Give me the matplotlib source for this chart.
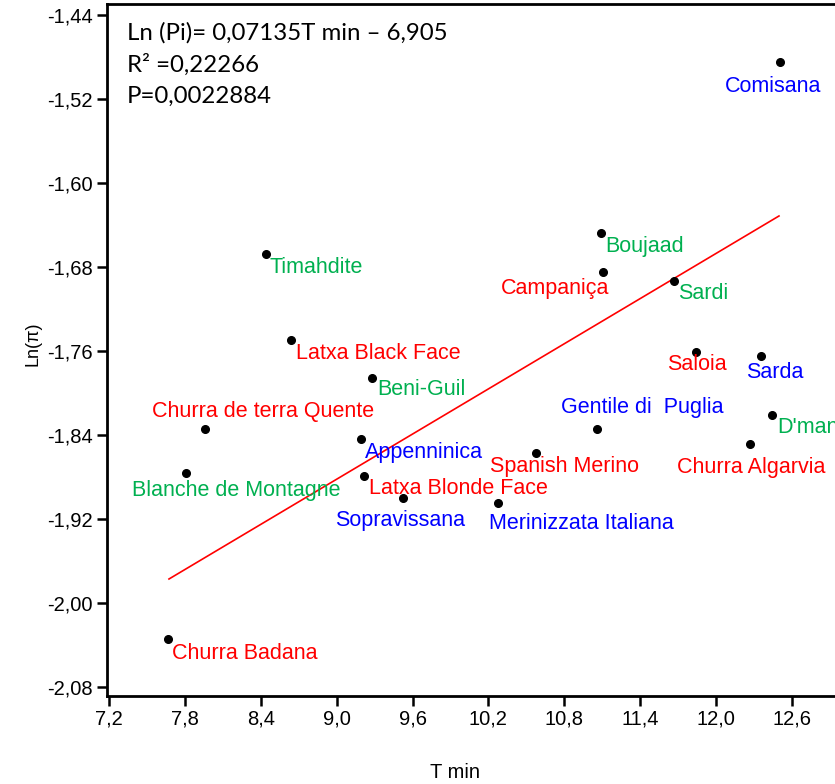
import matplotlib
matplotlib.use("Agg")
import matplotlib.pyplot as plt

# ---- data ----
breeds = ["Comisana", "Timahdite", "Latxa Black Face", "Beni-Guil", "Churra de terra Quente",
          "Appenninica", "Blanche de Montagne", "Latxa Blonde Face", "Sopravissana",
          "Churra Badana", "Boujaad", "Campaniça", "Sardi", "Saloia", "Sarda", "D'man",
          "Churra Algarvia", "Gentile di  Puglia", "Spanish Merino", "Merinizzata Italiana"]
t_min = [12.507, 8.438, 8.641, 9.279, 7.956, 9.190, 7.808, 9.218, 9.524, 7.668,
         11.089, 11.107, 11.666, 11.842, 12.359, 12.446, 12.272, 11.062, 10.574, 10.278]
ln_pi = [-1.4848, -1.668, -1.7497, -1.7856, -1.8348, -1.844, -1.8767, -1.879, -1.9005, -2.0349,
         -1.648, -1.6849, -1.6937, -1.7608, -1.7646, -1.8211, -1.8488, -1.8348, -1.8576, -1.9053]
groups = ["blue", "green", "red", "green", "red", "blue", "green", "red", "blue", "red",
          "green", "red", "green", "red", "blue", "green", "red", "blue", "red", "blue"]
fit_x = [7.673, 12.499]
fit_y = [-1.9774, -1.6315]
x_ticks = [7.2, 7.8, 8.4, 9.0, 9.6, 10.2, 10.8, 11.4, 12.0, 12.6]
y_ticks = [-1.44, -1.52, -1.60, -1.68, -1.76, -1.84, -1.92, -2.00, -2.08]
stats_text = "Ln (Pi)= 0,07135T min \u2013 6,905\nR\u00b2 =0,22266\nP=0,0022884"

# ---- styles ----
colors = {"red": "#FF0000", "blue": "#0000FF", "green": "#00B050"}
# label offsets in pixels (dx, dy downward), and horizontal alignment
offsets = {
    "Comisana": (-7, 24, "center"), "Timahdite": (4, 13, "left"),
    "Latxa Black Face": (5, 13, "left"), "Beni-Guil": (5, 12, "left"),
    "Churra de terra Quente": (58, -18, "center"), "Appenninica": (4, 14, "left"),
    "Blanche de Montagne": (50, 17, "center"), "Latxa Blonde Face": (5, 13, "left"),
    "Sopravissana": (-3, 22, "center"), "Churra Badana": (4, 14, "left"),
    "Boujaad": (4, 13, "left"), "Campaniça": (-48, 16, "center"),
    "Sardi": (4, 12, "left"), "Saloia": (1, 13, "center"), "Sarda": (13, 17, "center"),
    "D'man": (5, 13, "left"), "Churra Algarvia": (1, 23, "center"),
    "Gentile di  Puglia": (45, -22, "center"), "Spanish Merino": (29, 13, "center"),
    "Merinizzata Italiana": (83, 20, "center"),
}

W, H = 835, 784
PXU_X, PXU_Y = 126.4, 1049.5      # pixels per data unit
X0_PX, Y0_PX = 109.2, 15.0        # pixel positions of 7.2 and -1.44
L, R, T, B = 106.7, 835, 4, 696   # axes frame in pixels

fig = plt.figure(figsize=(W / 100, H / 100), dpi=100)
ax = fig.add_axes([L / W, 1 - B / H, (R - L) / W, (B - T) / H])
ax.set_xlim(7.2 - (X0_PX - L) / PXU_X, 7.2 + (R - X0_PX) / PXU_X)
ax.set_ylim(-1.44 - (B - Y0_PX) / PXU_Y, -1.44 + (Y0_PX - T) / PXU_Y)

ax.plot(fit_x, fit_y, color="#FF0000", lw=1.2, zorder=2)
ax.plot(t_min, ln_pi, "o", color="black", ms=5.5, zorder=3)

for name, x, y, g in zip(breeds, t_min, ln_pi, groups):
    dx, dy, ha = offsets[name]
    ax.annotate(name, (x, y), xytext=(dx, -dy), textcoords="offset pixels",
                ha=ha, va="center", color=colors[g], fontsize=15.5,
                family="Liberation Sans", annotation_clip=False)

fig.text(127 / W, 1 - 22 / H, stats_text, ha="left", va="top",
         fontsize=17.3, family=["Lato", "DejaVu Sans"], linespacing=1.56)

ax.set_xticks(x_ticks)
ax.set_xticklabels([f"{v:.1f}".replace(".", ",") for v in x_ticks])
ax.set_yticks(y_ticks)
ax.set_yticklabels([f"{v:.2f}".replace(".", ",") for v in y_ticks])
for lab in ax.get_xticklabels() + ax.get_yticklabels():
    lab.set_family("Liberation Sans")
    lab.set_fontsize(14.5)
ax.tick_params(direction="out", length=7, width=1.8, color="black", pad=3)
for s in ["left", "bottom", "top"]:
    ax.spines[s].set_linewidth(2)
ax.spines["right"].set_visible(False)

fig.text(455 / W, 1 - 773 / H, "T min", ha="center", va="center", fontsize=14.5,
         family="Liberation Sans")
fig.text(33 / W, 1 - 344 / H, "Ln(\u03c0)", ha="center", va="center", rotation=90,
         fontsize=13, family="Liberation Sans")

fig.savefig("out.png", dpi=100)
